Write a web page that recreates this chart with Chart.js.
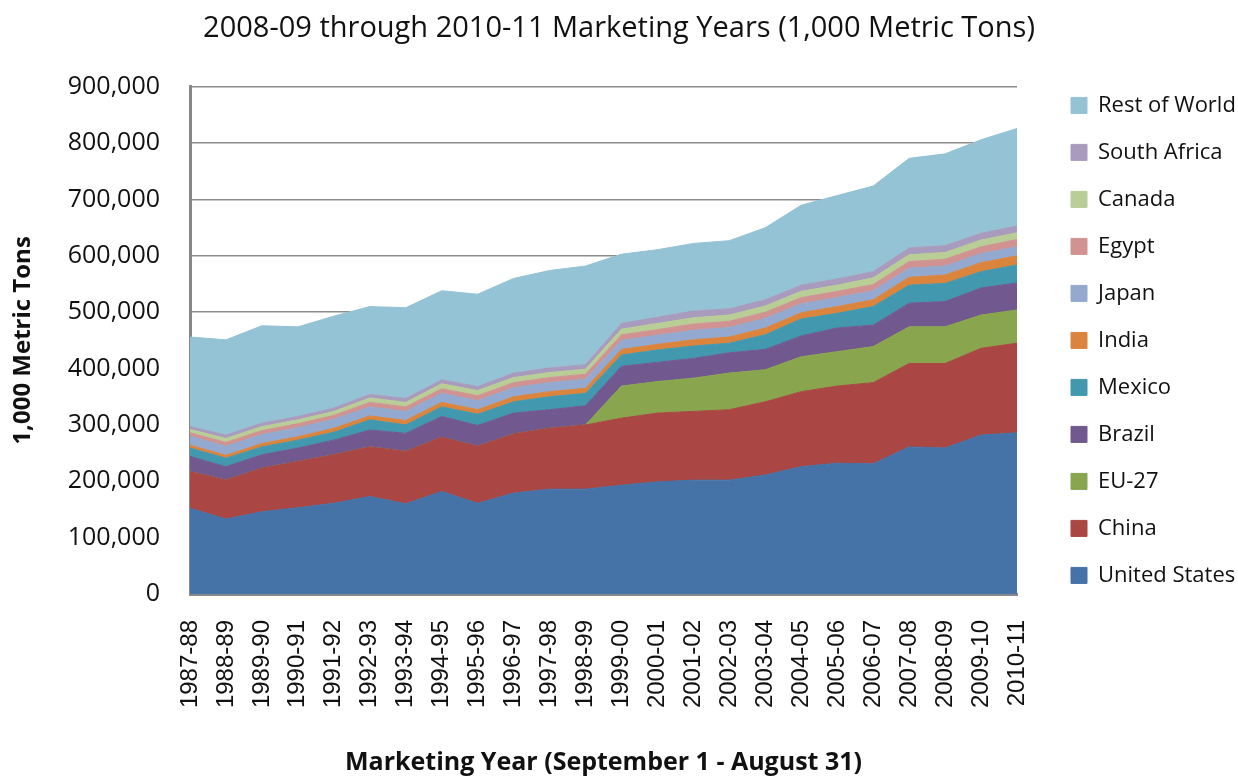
<!DOCTYPE html>
<html>
<head>
<meta charset="utf-8">
<title>Corn consumption by country</title>
<script src="https://cdn.jsdelivr.net/npm/chart.js@4/dist/chart.umd.min.js"></script>
<style>
  html, body { margin: 0; padding: 0; background: #fff; }
  #chart { display: block; }
</style>
</head>
<body>
<canvas id="chart" width="1238" height="778"></canvas>
<script>
// Marketing years on the x axis
const years = ['1987-88', '1988-89', '1989-90', '1990-91', '1991-92', '1992-93', '1993-94', '1994-95',
    '1995-96', '1996-97', '1997-98', '1998-99', '1999-00', '2000-01', '2001-02', '2002-03',
    '2003-04', '2004-05', '2005-06', '2006-07', '2007-08', '2008-09', '2009-10', '2010-11'];

// Values in 1,000 metric tons
const unitedStates = [152000, 133000, 146000, 153000, 161000, 173000, 160000, 182000, 161000, 179000, 186000, 186000,
    193000, 199000, 202000, 202000, 211000, 226000, 232000, 231000, 261000, 259000, 282000, 286000];
const china = [65000, 69000, 77000, 82000, 86000, 88000, 93000, 96000, 101000, 105000, 108000, 114000,
    119000, 122000, 122000, 125000, 130000, 133000, 137000, 144000, 148000, 150000, 154000, 159000];
const eu27 = [0, 0, 0, 0, 0, 0, 0, 0, 0, 0, 0, 0,
    57000, 56000, 59000, 65000, 57000, 62000, 61000, 64000, 65000, 65000, 59000, 59000];
const brazil = [27000, 24000, 24000, 24000, 26000, 30000, 32000, 37000, 37000, 37000, 33000, 34000,
    35000, 34000, 35000, 36000, 36000, 37000, 42000, 38000, 42000, 45000, 48000, 48000];
const mexico = [15000, 15000, 14000, 14000, 14000, 18000, 15000, 17000, 20000, 20000, 23000, 22000,
    20000, 22000, 22000, 17000, 26000, 30000, 26000, 33000, 32000, 32000, 29000, 32000];
const india = [5000, 5000, 6000, 6000, 7000, 7000, 8000, 8000, 8000, 9000, 9000, 9000,
    10000, 10000, 11000, 11000, 12000, 11000, 12000, 12000, 14000, 15000, 16000, 16000];
const japan = [16000, 16000, 16000, 16000, 16000, 16000, 16000, 16000, 16000, 16000, 16000, 16000,
    16000, 16000, 17000, 17000, 17000, 16000, 16000, 16000, 16000, 16000, 16000, 16000];
const egypt = [6000, 7000, 7000, 7000, 7000, 8000, 8000, 8000, 9000, 9000, 9000, 9000,
    10000, 10000, 11000, 11000, 11000, 11000, 11000, 11000, 12000, 12000, 12000, 13000];
const canada = [6000, 7000, 7000, 7000, 7000, 8000, 8000, 9000, 9000, 9000, 9000, 9000,
    10000, 11000, 11000, 11000, 11000, 11000, 11000, 12000, 12000, 12000, 12000, 12000];
const southAfrica = [5000, 6000, 6000, 6000, 6000, 6000, 7000, 7000, 7000, 8000, 8000, 8000,
    10000, 11000, 12000, 11000, 11000, 11000, 11000, 11000, 12000, 12000, 12000, 12000];
const restOfWorld = [159000, 169000, 173000, 159000, 163000, 156000, 161000, 158000, 164000, 168000, 173000, 175000,
    123000, 120000, 120000, 121000, 128000, 142000, 148000, 152000, 159000, 163000, 166000, 173000];

// Y axis ticks
const yTicks = [0, 100000, 200000, 300000, 400000, 500000, 600000, 700000, 800000, 900000];

// Series in stacking order (bottom first)
const seriesNames = ['United States', 'China', 'EU-27', 'Brazil', 'Mexico', 'India', 'Japan', 'Egypt', 'Canada', 'South Africa', 'Rest of World'];
const seriesValues = [unitedStates, china, eu27, brazil, mexico, india, japan, egypt, canada, southAfrica, restOfWorld];
const seriesColors = ['#4572A7', '#AA4643', '#89A54E', '#71588F', '#4198AF', '#DB843D', '#93A9CF', '#D19392', '#B9CD96', '#A99BBD', '#93C3D4'];

const datasets = seriesNames.map(function (name, i) {
    return {
        label: name,
        data: seriesValues[i],
        backgroundColor: seriesColors[i],
        borderColor: seriesColors[i],
        borderWidth: 1,
        pointRadius: 0,
        tension: 0,
        fill: i === 0 ? 'origin' : '-1'
    };
});

// Legend: keep all items in one column, and give it a wider box so the plot keeps its width
const legendSpacer = {
    id: 'legendSpacer',
    afterInit(chart) {
        const legend = chart.legend;
        const fit = legend.fit;
        legend.fit = function () {
            const h = this.maxHeight;
            this.maxHeight = 1000;
            fit.call(this);
            this.maxHeight = h;
            this.width = 221;
            this.height = h;
        };
    },
    afterLayout(chart) {
        const legend = chart.legend;
        legend.left += 29;
        legend.right += 29;
        // room so the last item does not wrap into a second column
        legend.top -= 50;
        legend.bottom += 50;
    }
};

const ctx = document.getElementById('chart').getContext('2d');
new Chart(ctx, {
    type: 'line',
    data: { labels: years, datasets: datasets },
    plugins: [legendSpacer],
    options: {
        responsive: false,
        animation: false,
        devicePixelRatio: 1,
        layout: { padding: 0 },
        scales: {
            x: {
                offset: false,
                grid: { display: false, drawTicks: true, tickLength: 20, tickColor: 'rgba(0,0,0,0)' },
                border: { display: true, color: '#888888', width: 3 },
                ticks: {
                    autoSkip: false,
                    minRotation: 90,
                    maxRotation: 90,
                    padding: 6,
                    color: '#111',
                    font: { family: '"Liberation Sans", Arial, sans-serif', size: 24 }
                },
                title: {
                    display: true,
                    text: 'Marketing Year (September 1 - August 31)',
                    color: '#111',
                    font: { family: '"Open Sans", sans-serif', size: 25, weight: 'bold' },
                    padding: { top: 4, bottom: 0 }
                },
                afterFit(scale) { scale.height = 184; }
            },
            y: {
                stacked: true,
                min: 0,
                max: 900000,
                afterBuildTicks(scale) {
                    scale.ticks = yTicks.map(function (v) { return { value: v }; });
                },
                grid: { color: '#8c8c8c', lineWidth: 1.5, drawTicks: false },
                border: { display: true, color: '#888888', width: 3 },
                ticks: {
                    padding: 30,
                    color: '#111',
                    font: { family: '"Open Sans", sans-serif', size: 25 },
                    callback: function (value) {
                        return value.toLocaleString('en-US');
                    }
                },
                title: {
                    display: true,
                    text: '1,000 Metric Tons',
                    color: '#111',
                    font: { family: '"Open Sans", sans-serif', size: 24, weight: 'bold' },
                    padding: { top: 9, bottom: 4 }
                },
                afterFit(scale) { scale.width = 190; }
            }
        },
        plugins: {
            title: {
                display: true,
                text: '2008-09 through 2010-11 Marketing Years (1,000 Metric Tons)',
                color: '#111',
                font: { family: '"Open Sans", sans-serif', size: 29, weight: 'normal' },
                padding: { top: 11, bottom: 41 }
            },
            legend: {
                position: 'right',
                fullSize: false,
                reverse: true,
                labels: {
                    boxWidth: 16,
                    boxHeight: 16,
                    padding: 25,
                    color: '#111',
                    font: { family: '"Open Sans", sans-serif', size: 22 }
                }
            },
            tooltip: { enabled: false }
        }
    }
});
</script>
</body>
</html>
